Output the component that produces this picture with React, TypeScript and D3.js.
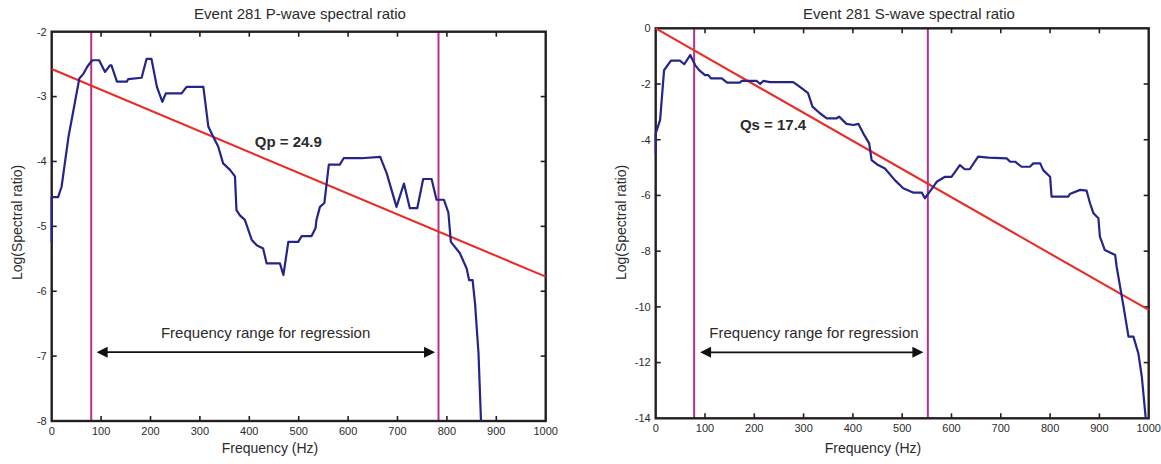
import React from "react";
import * as d3 from "d3";

// ---------- Data ----------
const pFreq = [0, 0, 13, 20, 34, 44, 56, 64, 72, 82, 96, 108, 118, 121, 132, 152, 155, 182, 192, 202, 213, 224, 231, 263, 273, 307, 317, 327, 337, 347, 361, 371, 374, 381, 391, 405, 415, 428, 435, 462, 469, 479, 499, 506, 526, 534, 536, 543, 552, 561, 583, 591, 627, 665, 678, 698, 713, 725, 740, 752, 769, 779, 794, 803, 808, 826, 840, 845, 852, 857, 864, 869];
const pVal = [-5.24, -4.55, -4.55, -4.39, -3.62, -3.21, -2.72, -2.65, -2.54, -2.44, -2.44, -2.62, -2.52, -2.52, -2.77, -2.77, -2.73, -2.71, -2.42, -2.42, -2.85, -3.08, -2.95, -2.95, -2.85, -2.85, -3.46, -3.62, -3.77, -4.03, -4.13, -4.23, -4.75, -4.83, -4.9, -5.21, -5.29, -5.34, -5.57, -5.57, -5.75, -5.24, -5.24, -5.15, -5.15, -5.03, -4.9, -4.7, -4.64, -4.05, -4.05, -3.95, -3.95, -3.93, -4.18, -4.7, -4.34, -4.72, -4.72, -4.27, -4.27, -4.59, -4.59, -4.79, -5.24, -5.41, -5.65, -5.83, -5.83, -6.19, -6.96, -8.0];

const sFreq = [0, 0, 9, 17, 22, 31, 49, 58, 70, 80, 88, 100, 107, 112, 134, 145, 171, 174, 205, 212, 218, 232, 279, 296, 309, 318, 333, 347, 367, 372, 387, 401, 411, 421, 433, 438, 451, 465, 485, 502, 523, 540, 546, 556, 570, 587, 600, 617, 627, 637, 654, 675, 712, 719, 729, 742, 759, 766, 780, 786, 800, 803, 837, 840, 861, 874, 881, 888, 898, 901, 911, 932, 935, 949, 959, 969, 979, 986, 994];
const sVal = [-4.49, -3.77, -3.29, -1.5, -1.38, -1.16, -1.16, -1.29, -0.96, -1.32, -1.5, -1.68, -1.68, -1.8, -1.8, -1.95, -1.95, -1.89, -1.89, -2.0, -1.89, -1.93, -1.93, -2.15, -2.33, -2.81, -3.05, -3.23, -3.23, -3.17, -3.43, -3.47, -3.43, -3.77, -4.13, -4.73, -4.91, -5.03, -5.45, -5.74, -5.9, -5.9, -6.1, -5.86, -5.51, -5.33, -5.33, -4.91, -5.06, -5.06, -4.61, -4.64, -4.67, -4.79, -4.79, -4.97, -4.97, -4.85, -4.85, -5.09, -5.33, -6.04, -6.04, -5.95, -5.8, -5.83, -6.28, -6.64, -6.82, -7.48, -7.96, -8.14, -8.56, -9.99, -11.07, -11.07, -11.67, -12.5, -14.0];

// regression line values at 0 Hz and 1000 Hz
const fitFreq = [0, 1000];
const pFit = [-2.575, -5.775];
const sFit = [0, -10.11];

// regression window limits (Hz)
const pRange = [80, 783];
const sRange = [78, 552];

const xTicks = [0, 100, 200, 300, 400, 500, 600, 700, 800, 900, 1000];
const pYTicks = [-8, -7, -6, -5, -4, -3, -2];
const sYTicks = [-14, -12, -10, -8, -6, -4, -2, 0];

const pTitle = "Event 281 P-wave spectral ratio";
const sTitle = "Event 281 S-wave spectral ratio";
const pQ = "Qp = 24.9";
const sQ = "Qs = 17.4";
const rangeText = "Frequency range for regression";
const xLabel = "Frequency (Hz)";
const yLabel = "Log(Spectral ratio)";

// ---------- Styles ----------
const FONT = "'Liberation Sans', Arial, Helvetica, sans-serif";
const TEXT = "#2b2b2b";
const BLUE = "#25248a";
const RED = "#e82c26";
const PURPLE = "#b5308f";
const AXIS = "#231f20";

type PanelProps = {
  left: number; right: number; top: number; bottom: number;
  yDomain: [number, number]; yTicks: number[];
  freq: number[]; vals: number[]; fit: number[]; range: number[];
  title: string; titleX: number; xLabelX: number; yLabelX: number; yLabelY: number;
  q: string; qAt: [number, number];
  textAt: [number, number]; arrowFrom: number; arrowTo: number; arrowV: number;
};

function Panel(p: PanelProps) {
  const x = d3.scaleLinear().domain([0, 1000]).range([p.left, p.right]);
  const y = d3.scaleLinear().domain(p.yDomain).range([p.bottom, p.top]);
  const line = d3.line<[number, number]>().x((d) => x(d[0])).y((d) => y(d[1]));
  const curve = line(p.freq.map((f, i) => [f, p.vals[i]] as [number, number])) || "";
  const fitPath = line(fitFreq.map((f, i) => [f, p.fit[i]] as [number, number])) || "";
  const ay = y(p.arrowV);
  const ax0 = x(p.arrowFrom);
  const ax1 = x(p.arrowTo);
  const ah = 11, aw = 5.5;
  const tickLen = 5;
  return (
    <g>
      <text x={p.titleX} y={19} textAnchor="middle" fontSize={15} fill={TEXT} fontFamily={FONT}>{p.title}</text>
      {/* regression window */}
      {p.range.map((f, i) => (
        <line key={"v" + i} x1={x(f)} x2={x(f)} y1={p.top} y2={p.bottom} stroke={PURPLE} strokeWidth={2} />
      ))}
      {/* frame */}
      <rect x={p.left} y={p.top} width={p.right - p.left} height={p.bottom - p.top} fill="none" stroke={AXIS} strokeWidth={2.4} />
      {/* ticks */}
      {xTicks.filter((t) => t > 0 && t < 1000).map((t) => (
        <g key={"xt" + t}>
          <line x1={x(t)} x2={x(t)} y1={p.bottom} y2={p.bottom - tickLen} stroke={AXIS} strokeWidth={1.6} />
          <line x1={x(t)} x2={x(t)} y1={p.top} y2={p.top + tickLen} stroke={AXIS} strokeWidth={1.6} />
        </g>
      ))}
      {p.yTicks.filter((t) => t > p.yDomain[0] && t < p.yDomain[1]).map((t) => (
        <g key={"yt" + t}>
          <line x1={p.left} x2={p.left + tickLen} y1={y(t)} y2={y(t)} stroke={AXIS} strokeWidth={1.6} />
          <line x1={p.right} x2={p.right - tickLen} y1={y(t)} y2={y(t)} stroke={AXIS} strokeWidth={1.6} />
        </g>
      ))}
      {xTicks.map((t) => (
        <text key={"xl" + t} x={x(t)} y={p.bottom + 14} textAnchor="middle" fontSize={11} fill={TEXT} fontFamily={FONT}>{t}</text>
      ))}
      {p.yTicks.map((t) => (
        <text key={"yl" + t} x={p.left - 5} y={y(t)} dy="0.35em" textAnchor="end" fontSize={11} fill={TEXT} fontFamily={FONT}>{t}</text>
      ))}
      {/* data */}
      <path d={fitPath} fill="none" stroke={RED} strokeWidth={2.1} />
      <path d={curve} fill="none" stroke={BLUE} strokeWidth={2.2} strokeLinejoin="round" />
      {/* annotations */}
      <text x={x(p.qAt[0])} y={y(p.qAt[1])} textAnchor="middle" fontSize={15} fontWeight="bold" fill={TEXT} fontFamily={FONT}>{p.q}</text>
      <text x={x(p.textAt[0])} y={y(p.textAt[1])} textAnchor="middle" fontSize={15} fill={TEXT} fontFamily={FONT}>{rangeText}</text>
      <line x1={ax0 + ah - 1} x2={ax1 - ah + 1} y1={ay} y2={ay} stroke="#111" strokeWidth={1.7} />
      <path d={`M${ax0},${ay}L${ax0 + ah},${ay - aw}L${ax0 + ah},${ay + aw}Z`} fill="#111" />
      <path d={`M${ax1},${ay}L${ax1 - ah},${ay - aw}L${ax1 - ah},${ay + aw}Z`} fill="#111" />
      {/* axis labels */}
      <text x={p.xLabelX} y={453} textAnchor="middle" fontSize={14} fill={TEXT} fontFamily={FONT}>{xLabel}</text>
      <text transform={`translate(${p.yLabelX},${p.yLabelY}) rotate(-90)`} textAnchor="middle" fontSize={14} fill={TEXT} fontFamily={FONT}>{yLabel}</text>
    </g>
  );
}

export default function App() {
  return (
    <svg width={1161} height={464} style={{ position: "absolute", left: 0, top: 0, background: "#fff" }}>
      <rect width={1161} height={464} fill="#fff" />
      <Panel
        left={51.7} right={545.7} top={31.7} bottom={421}
        yDomain={[-8, -2]} yTicks={pYTicks}
        freq={pFreq} vals={pVal} fit={pFit} range={pRange}
        title={pTitle} titleX={300} xLabelX={270} yLabelX={22} yLabelY={222.5}
        q={pQ} qAt={[479, -3.77]}
        textAt={[433, -6.72]} arrowFrom={91} arrowTo={776} arrowV={-6.94}
      />
      <Panel
        left={655.7} right={1148.7} top={28.3} bottom={418.3}
        yDomain={[-14, 0]} yTicks={sYTicks}
        freq={sFreq} vals={sVal} fit={sFit} range={sRange}
        title={sTitle} titleX={909} xLabelX={873} yLabelX={626} yLabelY={222.5}
        q={sQ} qAt={[238, -3.65]}
        textAt={[321, -11.12]} arrowFrom={90} arrowTo={543} arrowV={-11.63}
      />
    </svg>
  );
}
